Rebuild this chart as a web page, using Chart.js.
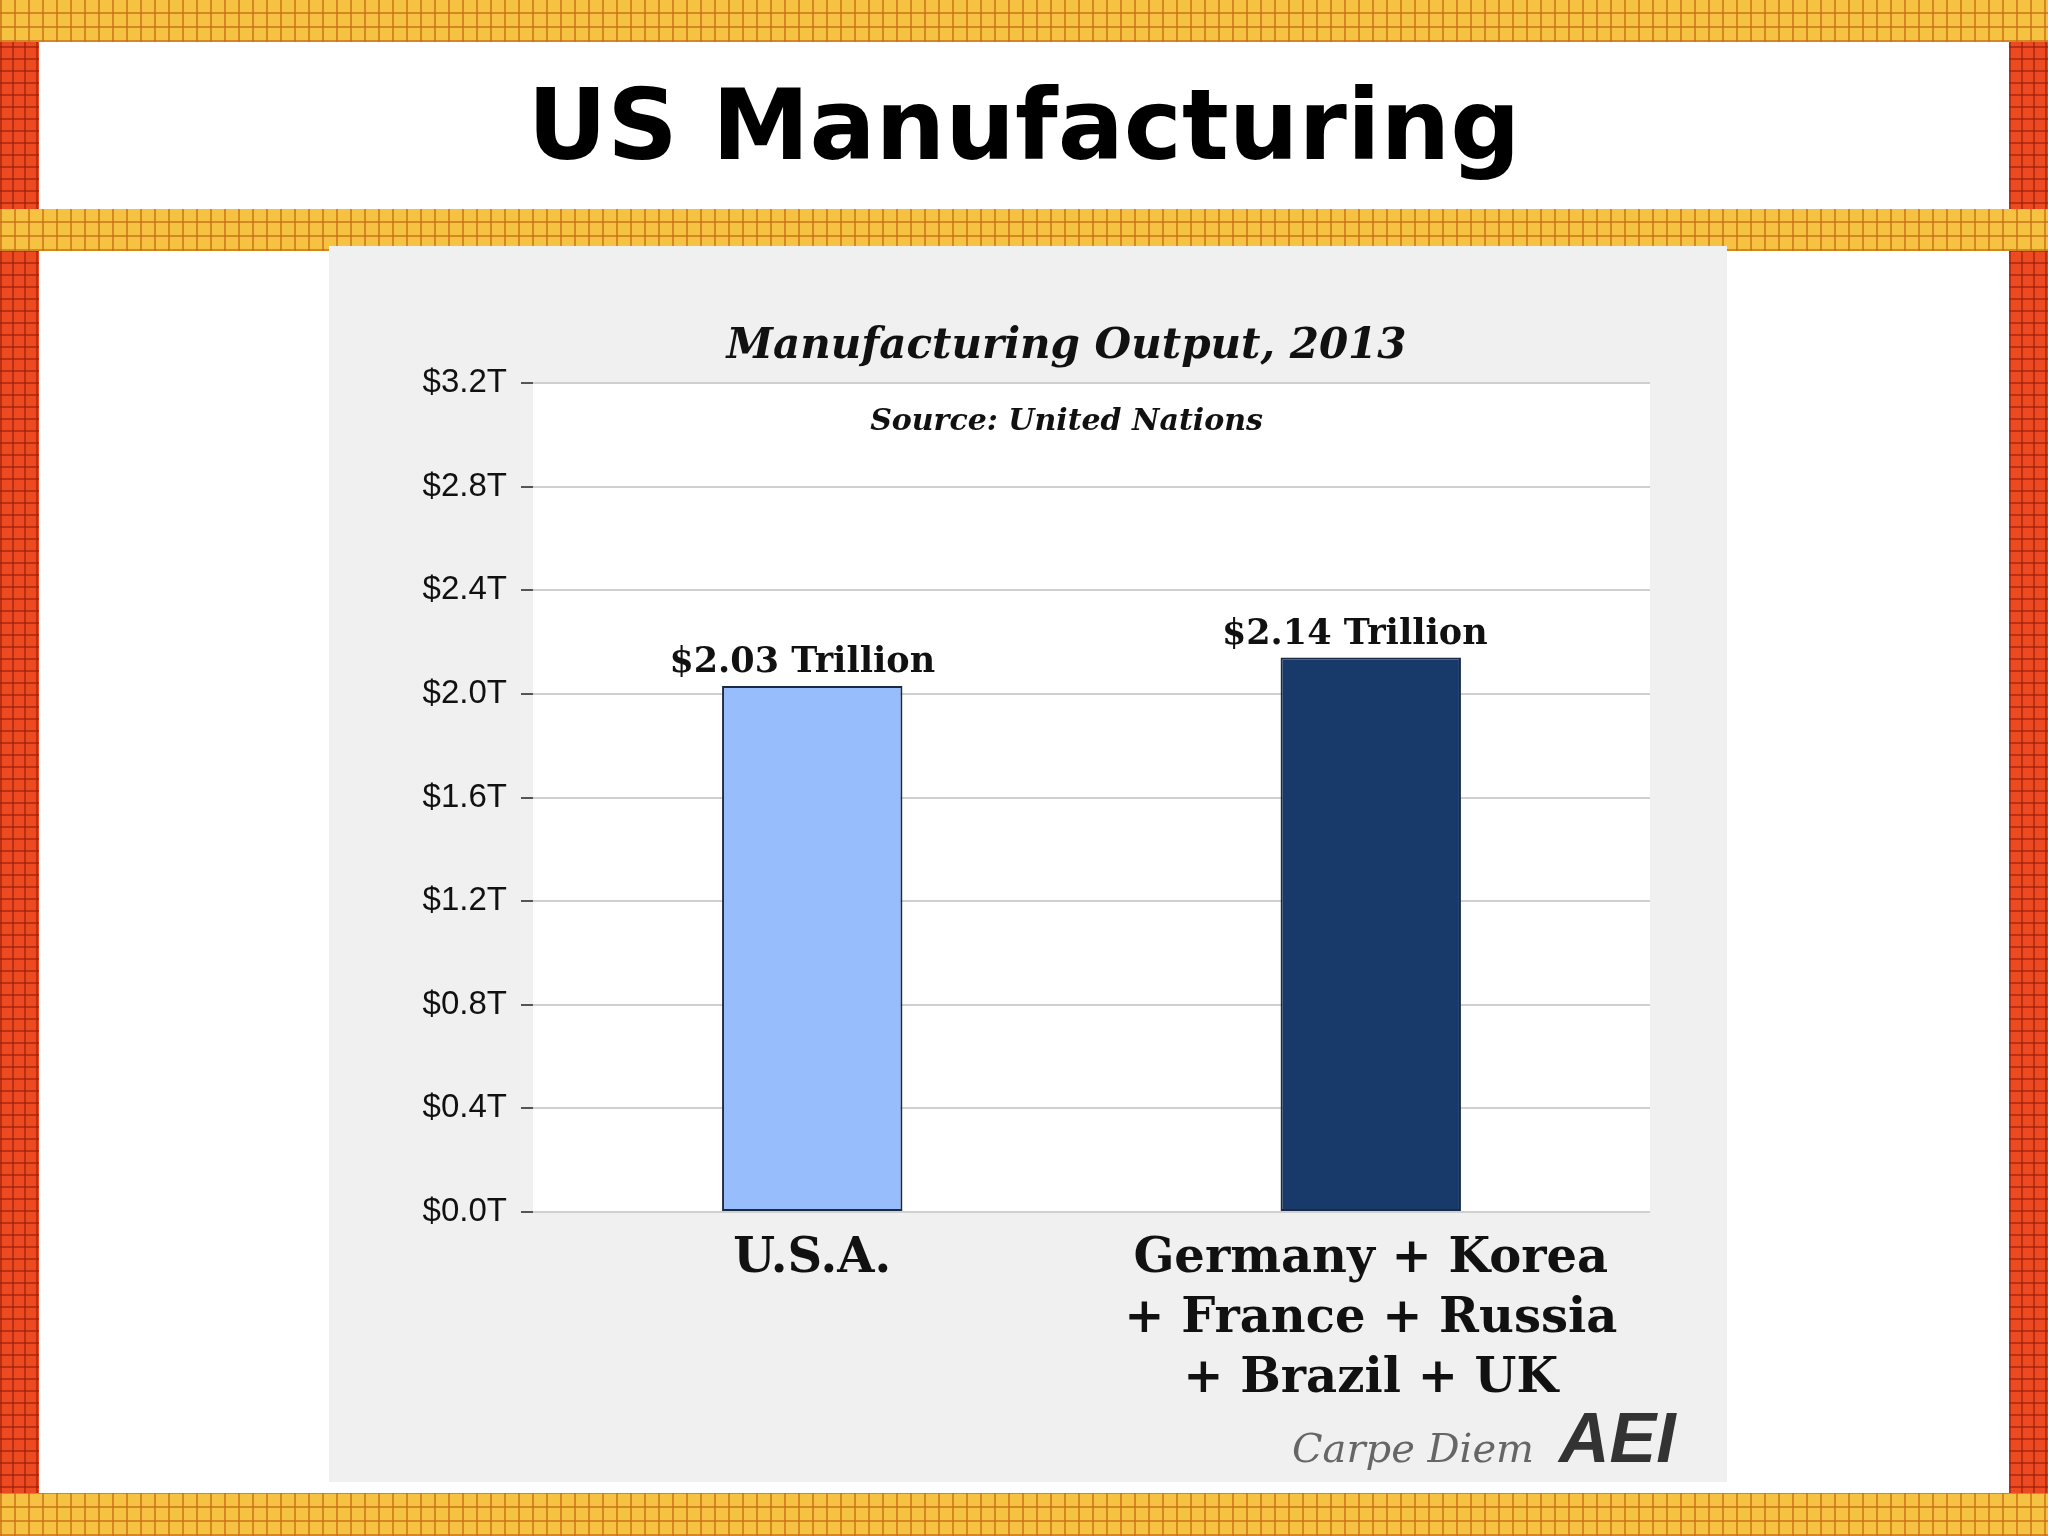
<!DOCTYPE html>
<html><head><meta charset="utf-8">
<script src="https://cdn.jsdelivr.net/npm/chart.js@4"></script>
<style>
html,body{margin:0;padding:0;width:2048px;height:1536px;overflow:hidden;background:#fff;font-family:"Liberation Sans",Arial,sans-serif;}
.yel{position:absolute;left:0;width:2048px;background-color:#f5c242;
 background-image:repeating-linear-gradient(90deg,rgba(200,110,20,.7) 0 2px,transparent 2px 14px),repeating-linear-gradient(0deg,rgba(200,110,20,.7) 0 2px,transparent 2px 14px);}
.red{position:absolute;top:0;height:1536px;background-color:#ee4a22;
 background-image:repeating-linear-gradient(90deg,rgba(150,30,10,.6) 0 2px,transparent 2px 12px),repeating-linear-gradient(0deg,rgba(150,30,10,.6) 0 2px,transparent 2px 12px);}
#title{position:absolute;left:39px;width:1970px;top:42px;height:167px;background:#fff;text-align:center;font:bold 98px "DejaVu Sans",Arial,sans-serif;line-height:167px;color:#000;}
#panel{position:absolute;left:329px;top:246px;width:1398px;height:1236px;background:#f0f0f0;}
</style></head><body>
<div class="red" style="left:0;width:39px"></div>
<div class="red" style="left:2009px;width:39px"></div>
<div class="yel" style="top:0;height:42px"></div>
<div class="yel" style="top:209px;height:42px"></div>
<div class="yel" style="top:1493px;height:43px"></div>
<div id="title">US Manufacturing</div>
<div id="panel"><canvas id="c" width="1398" height="1236"></canvas></div>
<script>
const categories=[["U.S.A."],["Germany + Korea","+ France + Russia","+ Brazil + UK"]];
const values=[2.03,2.14];
const valueLabels=["$2.03 Trillion","$2.14 Trillion"];
const barColors=["#97bdfc","#173a6b"];
const yTicks=[0,0.4,0.8,1.2,1.6,2.0,2.4,2.8,3.2];

const deco={id:'deco',
 beforeDraw(c){const a=c.chartArea,x=c.ctx;x.save();x.fillStyle='#fff';x.fillRect(a.left,a.top,a.right-a.left,a.bottom-a.top);x.restore();},
 afterDraw(c){const x=c.ctx,a=c.chartArea;x.save();x.fillStyle='#111';x.textAlign='center';x.textBaseline='alphabetic';
  x.font='italic bold 42px "DejaVu Serif",Georgia,serif';x.fillText('Manufacturing Output, 2013',(a.left+a.right)/2-25,112);
  x.font='italic bold 30px "DejaVu Serif",Georgia,serif';x.fillText('Source: United Nations',(a.left+a.right)/2-25,184);
  const m=c.getDatasetMeta(0);x.font='bold 35px "DejaVu Serif",Georgia,serif';
  m.data.forEach((b,i)=>x.fillText(valueLabels[i],b.x+(i?-16:-10),b.y-14));
  x.fillStyle='#666';x.font='italic 40px "DejaVu Serif",Georgia,serif';x.textAlign='right';x.fillText('Carpe Diem',1205,1216);
  x.fillStyle='#333';x.font='italic bold 70px "Liberation Sans",Arial,sans-serif';x.textAlign='left';x.fillText('AEI',1230,1216);
  x.restore();}};

new Chart(document.getElementById('c'),{type:'bar',
 data:{labels:categories,datasets:[{data:values,backgroundColor:barColors,borderColor:'#1a2a44',borderWidth:2,categoryPercentage:1,barPercentage:0.323,borderSkipped:false}]},
 options:{responsive:false,animation:false,
  layout:{padding:{top:137,right:77,bottom:0,left:0}},
  plugins:{legend:{display:false},tooltip:{enabled:false}},
  scales:{
   x:{grid:{display:false},border:{display:false},afterFit(ax){ax.height=270;},
      ticks:{color:'#111',font:{family:'"DejaVu Serif",Georgia,serif',weight:'bold',size:48,lineHeight:1.25},padding:10,maxRotation:0,autoSkip:false}},
   y:{min:0,max:3.2,afterBuildTicks(ax){ax.ticks=yTicks.map(v=>({value:v}));},
      afterFit(ax){ax.width=204;},
      grid:{color:'#d0d0d0',lineWidth:2,tickColor:'#555',tickLength:12,drawTicks:true},border:{display:false},
      ticks:{color:'#111',font:{family:'"Liberation Sans",Arial,sans-serif',size:33},padding:14,callback:v=>'$'+v.toFixed(1)+'T'}}}},
 plugins:[deco]});
</script>
</body></html>
